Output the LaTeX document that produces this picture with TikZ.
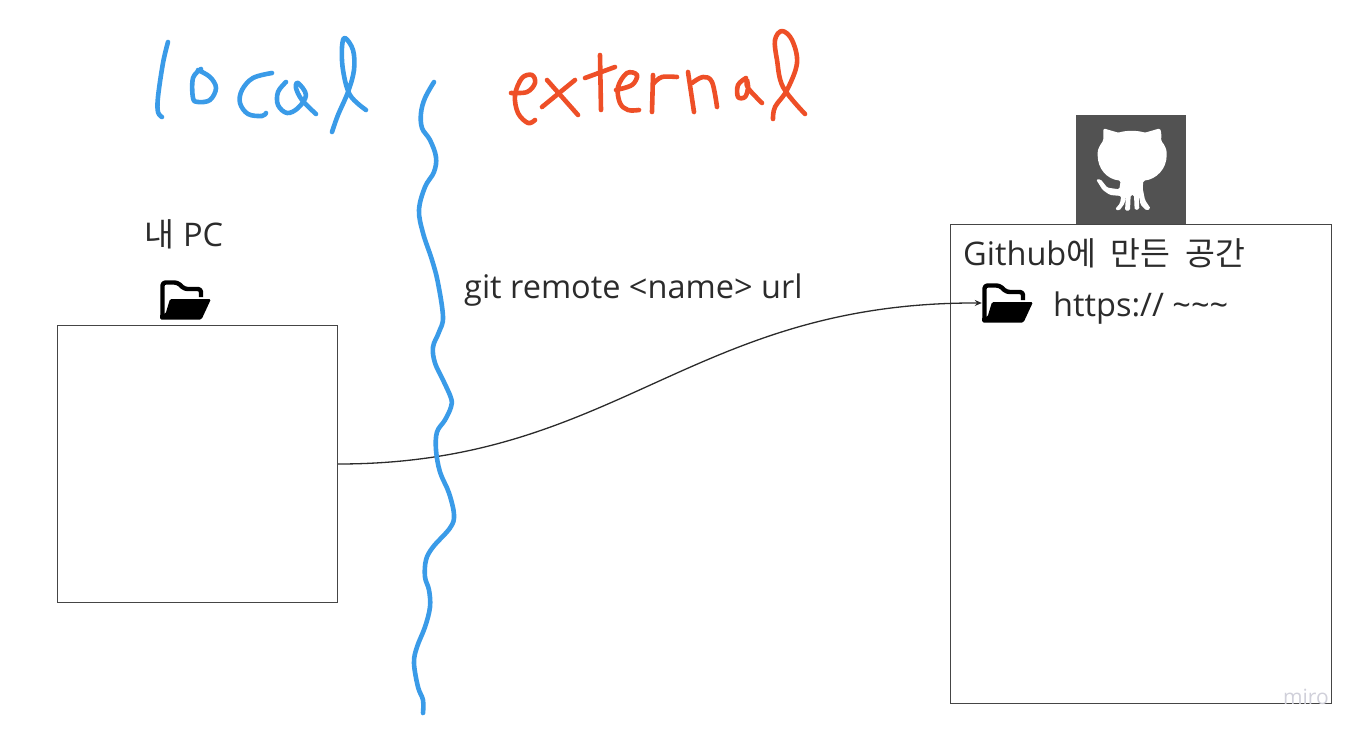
\documentclass[tikz,border=0pt]{standalone}
\usepackage{fontspec}
\setmainfont{Open Sans}
\newfontfamily\krfont[WordSpace=2]{Noto Sans CJK KR}
\usetikzlibrary{arrows.meta}
\def\wHand{4.6pt}
\def\wBox{1.0pt}
\definecolor{cBlue}{HTML}{3A9BE8}
\definecolor{cRed}{HTML}{EE4F27}
\definecolor{cInk}{HTML}{2B2B2B}
\definecolor{cEdge}{HTML}{454545}
\definecolor{cOcto}{HTML}{525252}
\definecolor{cMark}{HTML}{D0D0DA}
\tikzset{
  area/.style={draw=cEdge, line width=\wBox, inner sep=0pt, anchor=north west},
  label/.style={font=\fontsize{32.5}{38}\selectfont, text=cInk, inner sep=0pt},
  hand/.style={line width=\wHand, line cap=round, line join=round},
  blue/.style={hand, draw=cBlue},
  red/.style={hand, draw=cRed},
  slot/.style={inner sep=0pt, minimum width=51pt, minimum height=40pt},
  link/.style={draw=cInk, line width=1.3pt, -{Stealth[length=7pt,width=6pt]}},
  foldericon/.pic={
    \draw[line width=4.4pt, line join=round, rounded corners=3pt] (-23,16) -- (-23,-17.5) -- (-8,-17.5) -- (-1,-11) -- (15.5,-11) -- (15.5,-3);
    \fill[rounded corners=1.5pt] (-15.5,-1) -- (25.5,-1) -- (16,19.5) -- (-25.5,19.5) -- (-25.5,14) -- (-20,14) -- cycle;
  },
}
\newcommand{\stroke}[2]{\draw[#1] plot[smooth, tension=0.6] coordinates {#2};}
\begin{document}
\begin{tikzpicture}[x=1pt, y=-1pt]
\useasboundingbox (0,0) rectangle (1358,736);
% ---- two areas, octocat tile sits on top of the right one
\fill[cOcto] (1076,115) rectangle (1186,224);
\begin{scope}[shift={(1090,120)}, x=0.3333pt, y=-0.3333pt]
\fill[white, rounded corners=1.5pt] (40,25) -- (85,38) .. controls (110,31) and (140,31) .. (165,38) -- (210,25) .. controls (215,40) and (214,52) .. (213,62)
  .. controls (224,75) and (230,88) .. (230,102) .. controls (230,145) and (200,178) .. (160,182)
  -- (158,205) -- (165,240) -- (182,266) -- (170,272) -- (152,255) -- (146,225) -- (148,268) -- (134,270) -- (132,225) -- (122,225) -- (120,272) -- (105,272) -- (108,225)
  -- (104,250) -- (88,272) -- (75,268) -- (90,250) -- (94,228) -- (60,225) -- (38,210) -- (18,178) -- (32,178) -- (52,203) -- (88,208) -- (92,182)
  .. controls (50,178) and (23,145) .. (23,102) .. controls (23,88) and (30,75) .. (40,62) -- cycle;
\end{scope}
\node[area, minimum width=280pt, minimum height=277pt] (pcbox) at (57,325) {};
\node[area, minimum width=380.5pt, minimum height=479pt] (ghbox) at (950,224) {};

% ---- labels
\node[label] (pclabel) at (184,234) {{\krfont 내} PC};
\node[label, anchor=west] (ghlabel) at (963,253) {Github{\krfont 에 만든 공간}};
\node[label, anchor=west] (urllabel) at (1053,308) {https:// \textasciitilde\textasciitilde\textasciitilde};
\node[label, anchor=west] (cmdlabel) at (464,290) {git remote <name> url};
\node[font=\fontsize{21}{25}\selectfont, text=cMark, inner sep=0pt, anchor=east] (miromark) at (1329,697) {miro};

% ---- folders
\node[slot] (pcfolder) at (185.5,300) {};
\node[slot] (ghfolder) at (1007.5,303) {};
\pic at (pcfolder) {foldericon};
\pic at (ghfolder) {foldericon};

% ---- connector
\draw[link] (pcbox.east) .. controls (617,464) and (690,302) .. (ghfolder.west);

% ---- hand drawn divider
\stroke{blue}{(434,82) (425,98) (421,113) (422,128) (430,140) (436,157) (434,172) (425,187) (419,210) (423,233) (432,260) (438,283) (443,317) (439,332) (433,347) (435,363) (443,380) (451,398) (451,407) (445,420) (437,432) (436,450) (440,472) (449,493) (454,515) (450,528) (433,547) (426,560) (425,577) (429,590) (430,607) (425,627) (417,647) (414,663) (418,687) (423,700) (423,713)}

% ---- local
\stroke{blue}{(168,42) (163,63) (158,97) (158,112) (162,117)}
\stroke{blue}{(201,69) (193,78) (193,98) (198,102) (210,100) (216,88) (210,77) (198,70)}
\stroke{blue}{(272,73) (253,78) (242,90) (240,103) (248,114) (262,116) (266,113)}
\stroke{blue}{(286,82) (278,92) (278,105) (287,113) (298,108) (306,95) (298,83) (296,88) (302,100) (316,114)}
\stroke{blue}{(332,132) (338,115) (348,92) (354,70) (353,50) (345,38) (342,47) (343,70) (350,95) (366,110)}

% ---- external
\stroke{red}{(511,93) (527,92) (535,83) (532,75) (522,78) (515,95) (518,113) (528,123) (535,120)}
\stroke{red}{(547,80) (578,115)}
\stroke{red}{(575,80) (542,107)}
\stroke{red}{(600,55) (601,110)}
\stroke{red}{(585,78) (615,67)}
\stroke{red}{(616,90) (632,85) (637,75) (627,73) (618,87) (620,103) (628,110) (639,110)}
\stroke{red}{(653,75) (652,112)}
\stroke{red}{(654,83) (662,77) (677,77)}
\stroke{red}{(688,72) (694,112)}
\stroke{red}{(692,83) (703,77) (712,82) (717,107)}
\stroke{red}{(746,78) (738,85) (738,97) (745,97) (748,88) (747,80) (748,88) (762,103)}
\stroke{red}{(773,119) (775,107) (787,90) (797,63) (792,40) (782,31) (775,40) (777,60) (783,87) (805,114)}
\end{tikzpicture}
\end{document}
